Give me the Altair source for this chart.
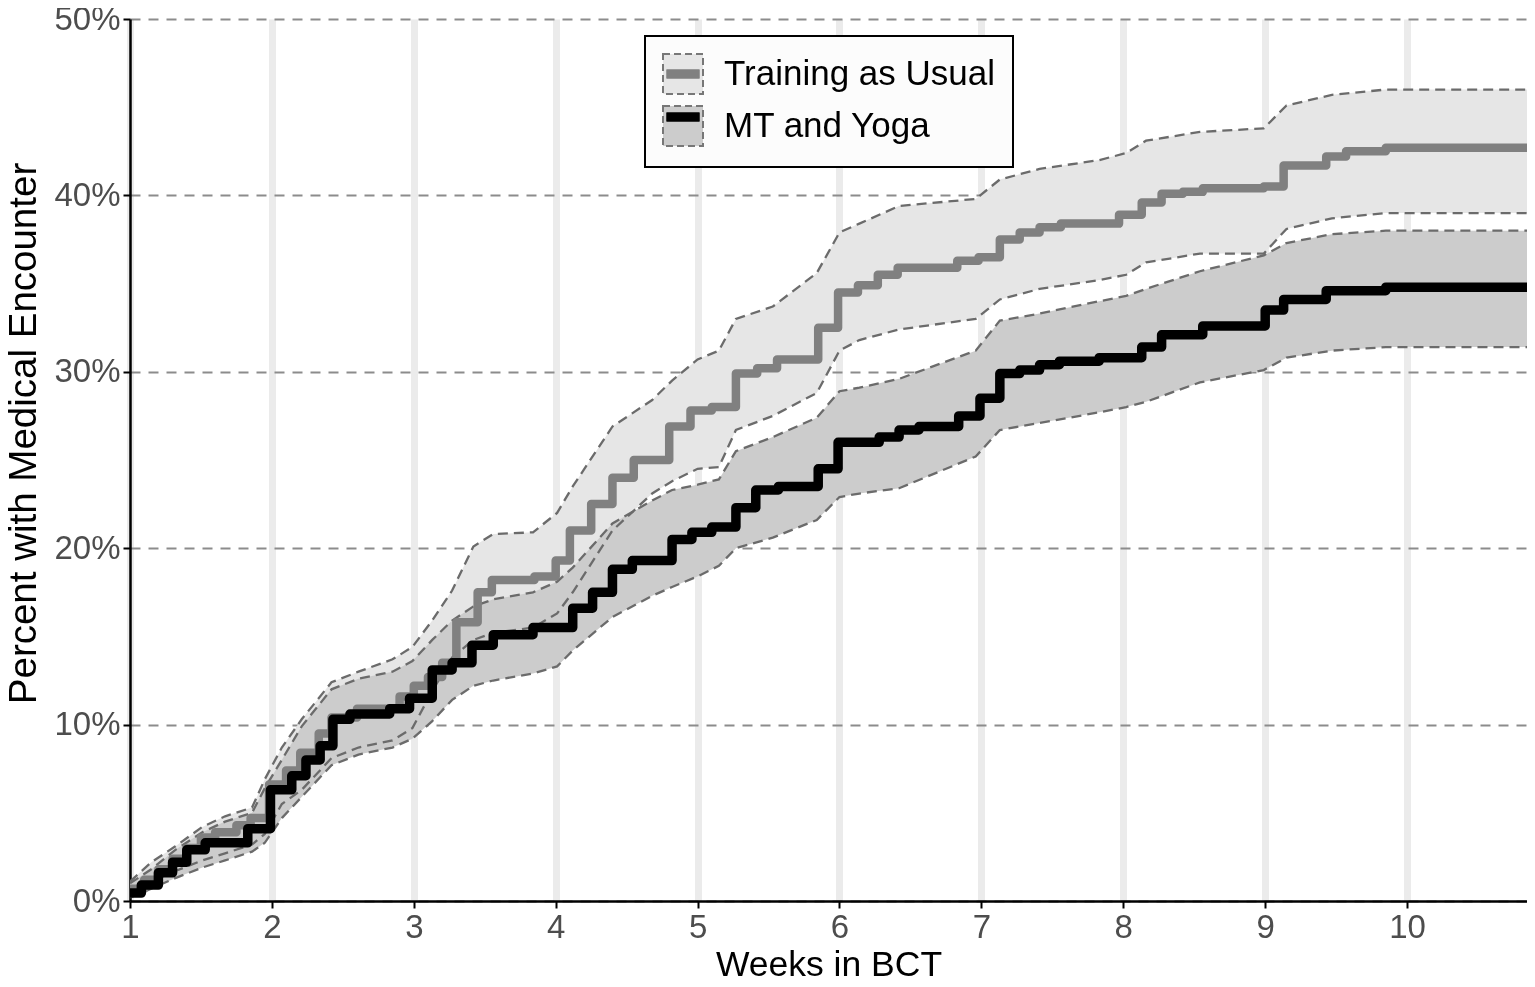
import altair as alt
import pandas as pd

# ---------------- data (percent) ----------------
groups = ["Training as Usual", "MT and Yoga"]

tau_week = [1.0, 1.1, 1.2, 1.3, 1.4, 1.5, 1.6, 1.75, 1.85, 1.98, 2.1, 2.2, 2.33, 2.42, 2.6, 2.9,
            3.0, 3.1, 3.2, 3.3, 3.45, 3.55, 3.85, 4.0, 4.1, 4.25, 4.4, 4.55, 4.8, 4.95, 5.1,
            5.27, 5.42, 5.56, 5.85, 5.99, 6.13, 6.27, 6.41, 6.83, 6.98, 7.13, 7.27, 7.41, 7.56,
            7.97, 8.13, 8.27, 8.42, 8.56, 8.99, 9.13, 9.43, 9.57, 9.85, 10.845]
tau_pct = [0.7, 1.2, 1.8, 2.4, 3.0, 3.6, 3.9, 4.3, 4.7, 6.6, 7.4, 8.4, 9.5, 10.4, 10.9, 11.6,
           12.2, 12.7, 13.5, 15.8, 17.5, 18.2, 18.4, 19.3, 21.0, 22.5, 24.0, 25.0, 26.9, 27.8, 28.0,
           29.9, 30.2, 30.7, 32.5, 34.5, 34.9, 35.5, 35.9, 36.3, 36.5, 37.5, 37.9, 38.2, 38.4,
           38.9, 39.6, 40.1, 40.2, 40.4, 40.5, 41.7, 42.2, 42.5, 42.7, 42.7]

mt_week = [1.0, 1.08, 1.2, 1.3, 1.4, 1.53, 1.83, 1.99, 2.14, 2.24, 2.34, 2.43, 2.55, 2.83, 2.97,
           3.13, 3.27, 3.41, 3.56, 3.84, 4.12, 4.26, 4.4, 4.54, 4.82, 4.96, 5.1, 5.27, 5.41, 5.57,
           5.85, 5.99, 6.28, 6.42, 6.56, 6.84, 6.99, 7.13, 7.27, 7.41, 7.55, 7.83, 8.13, 8.27,
           8.56, 9.0, 9.13, 9.43, 9.85, 10.845]
mt_pct = [0.45, 0.9, 1.6, 2.2, 2.9, 3.3, 4.1, 6.3, 7.1, 8.0, 8.8, 10.3, 10.6, 10.9, 11.5,
          13.1, 13.5, 14.5, 15.1, 15.5, 16.6, 17.5, 18.8, 19.3, 20.5, 20.9, 21.2, 22.3, 23.3, 23.5,
          24.5, 26.0, 26.3, 26.7, 26.9, 27.5, 28.5, 29.9, 30.1, 30.4, 30.6, 30.8, 31.4, 32.1,
          32.6, 33.5, 34.1, 34.6, 34.8, 34.8]

ci_week = [1.0, 1.15, 1.32, 1.51, 1.67, 1.86, 1.95, 2.07, 2.21, 2.42, 2.61, 2.85, 2.99, 3.13,
           3.27, 3.42, 3.56, 3.84, 4.01, 4.12, 4.4, 4.68, 4.82, 5.0, 5.15, 5.27, 5.53, 5.84, 6.0,
           6.14, 6.42, 6.96, 7.13, 7.41, 7.83, 8.02, 8.16, 8.54, 8.99, 9.15, 9.47, 9.85, 10.845]
tau_hi = [1.1, 2.2, 3.1, 4.2, 4.8, 5.3, 6.9, 8.7, 10.3, 12.4, 13.0, 13.7, 14.4, 15.9,
          17.6, 20.1, 20.8, 20.9, 22.0, 23.5, 26.9, 28.4, 29.5, 30.7, 31.2, 33.0, 33.7, 35.6, 37.9,
          38.4, 39.4, 39.8, 40.9, 41.5, 42.0, 42.4, 43.1, 43.6, 43.8, 45.1, 45.7, 46.0, 46.0]
tau_lo = [0.5, 1.1, 1.7, 2.3, 2.7, 3.2, 3.8, 5.5, 6.3, 8.1, 8.7, 9.1, 9.8, 11.9,
          13.8, 14.8, 15.2, 15.5, 16.3, 17.5, 21.0, 23.1, 23.8, 24.5, 24.6, 26.7, 27.5, 28.8, 31.2,
          31.8, 32.4, 33.0, 34.1, 34.7, 35.2, 35.5, 36.2, 36.7, 36.7, 38.1, 38.7, 39.0, 39.0]
mt_hi = [1.0, 1.8, 2.9, 3.9, 4.5, 5.0, 6.4, 8.0, 9.9, 12.0, 12.6, 13.0, 13.6, 14.8,
         15.9, 16.7, 17.1, 17.5, 18.1, 18.9, 21.4, 22.7, 23.3, 23.6, 23.9, 25.5, 26.3, 27.4, 28.9,
         29.1, 29.6, 31.2, 32.9, 33.3, 34.0, 34.3, 34.7, 35.7, 36.6, 37.3, 37.8, 38.0, 38.0]
mt_lo = [0.2, 0.7, 1.3, 1.9, 2.3, 2.8, 3.3, 4.7, 5.9, 7.7, 8.3, 8.7, 9.2, 10.2,
         11.4, 12.2, 12.5, 12.9, 13.3, 14.2, 16.1, 17.3, 17.8, 18.4, 19.0, 20.0, 20.6, 21.6, 22.9,
         23.1, 23.4, 25.2, 26.7, 27.1, 27.7, 28.0, 28.3, 29.4, 30.1, 30.8, 31.2, 31.4, 31.4]

x_ticks = [1, 2, 3, 4, 5, 6, 7, 8, 9, 10]
y_ticks = [0, 0.1, 0.2, 0.3, 0.4, 0.5]

# ---------------- tables ----------------
steps = pd.concat([
    pd.DataFrame({"week": tau_week, "pct": [v / 100 for v in tau_pct], "group": groups[0]}),
    pd.DataFrame({"week": mt_week, "pct": [v / 100 for v in mt_pct], "group": groups[1]}),
], ignore_index=True)

bands = pd.concat([
    pd.DataFrame({"week": ci_week, "lo": [v / 100 for v in tau_lo],
                  "hi": [v / 100 for v in tau_hi], "group": groups[0]}),
    pd.DataFrame({"week": ci_week, "lo": [v / 100 for v in mt_lo],
                  "hi": [v / 100 for v in mt_hi], "group": groups[1]}),
], ignore_index=True)

FONT = "Liberation Sans"
XMAX = 10.845
xscale = alt.Scale(domain=[1, XMAX], nice=False, zero=False)
yscale = alt.Scale(domain=[0, 0.5], nice=False, zero=False)
xaxis = alt.Axis(title="Weeks in BCT", values=x_ticks, format="d")
yaxis = alt.Axis(title="Percent with Medical Encounter", values=y_ticks, format=".0%")

X = alt.X("week:Q", scale=xscale, axis=xaxis)

area = alt.Chart(bands).mark_area(interpolate="linear", blend="multiply", clip=True).encode(
    x=X,
    y=alt.Y("lo:Q", scale=yscale, axis=yaxis),
    y2="hi:Q",
    fill=alt.Fill("group:N", sort=groups,
                  scale=alt.Scale(range=["#e6e6e6", "#cccccc"]),
                  legend=alt.Legend(orient="none", legendX=515, legendY=17, title=None,
                                    symbolType="square", symbolSize=1600,
                                    symbolStrokeColor="#777777", symbolStrokeWidth=2,
                                    symbolDash=[7, 4], symbolOpacity=1,
                                    labelFont=FONT, labelFontSize=35, labelColor="black",
                                    labelLimit=500, labelOffset=20, rowPadding=4, padding=17,
                                    fillColor="#fcfcfc", strokeColor="black")),
)

dash_lo = alt.Chart(bands).mark_line(color="#6b6b6b", strokeWidth=2.3, strokeDash=[10, 6],
                                     clip=True).encode(
    x=X, y=alt.Y("lo:Q", scale=yscale, axis=yaxis), detail="group:N")
dash_hi = alt.Chart(bands).mark_line(color="#6b6b6b", strokeWidth=2.3, strokeDash=[10, 6],
                                     clip=True).encode(
    x=X, y=alt.Y("hi:Q", scale=yscale, axis=yaxis), detail="group:N")

# line keys drawn over the boxed keys; their labels come from the legend above
stroke_legend = alt.Legend(orient="none", legendX=515, legendY=17, title=None,
                           symbolType="stroke", symbolSize=1089, symbolStrokeWidth=9,
                           labelFont=FONT, labelFontSize=35, labelExpr="''", labelLimit=500,
                           labelOffset=20, rowPadding=4, padding=17)
stroke_scale = alt.Scale(range=["#808080", "#000000"])


def step_line(name, width):
    return alt.Chart(steps).transform_filter(alt.datum.group == name).mark_line(
        interpolate="step-after", strokeWidth=width, strokeJoin="round", clip=True
    ).encode(
        x=X,
        y=alt.Y("pct:Q", scale=yscale, axis=yaxis),
        stroke=alt.Stroke("group:N", sort=groups, scale=stroke_scale, legend=stroke_legend),
    )


chart = alt.layer(
    area, dash_lo, dash_hi, step_line(groups[0], 8.5), step_line(groups[1], 9.5)
).resolve_legend(fill="independent", stroke="independent").properties(
    width=1397, height=882,
    autosize=alt.AutoSizeParams(type="none"),
    padding={"left": 122, "top": 11, "right": 0, "bottom": 78},
).configure_view(stroke=None).configure_axis(
    labelFont=FONT, titleFont=FONT, labelFontSize=33, titleFontSize=35.5,
    labelColor="#4d4d4d", titleColor="black", titleFontWeight="normal",
    domainColor="black", domainWidth=2.5, tickColor="black", tickWidth=2, tickSize=7,
    labelFlush=False,
).configure_axisX(
    grid=True, gridColor="#ebebeb", gridWidth=7, labelPadding=3, titlePadding=3,
).configure_axisY(
    grid=True, gridColor="#8c8c8c", gridWidth=2, gridDash=[10, 8], labelPadding=3,
    titleFontSize=38.5, titleX=-107, titleY=414, titleBaseline="middle", titleAlign="center",
    titleAngle=270,
).configure_legend(strokeWidth=2)

chart.save("out.html", embed_options={"renderer": "svg", "actions": False})
